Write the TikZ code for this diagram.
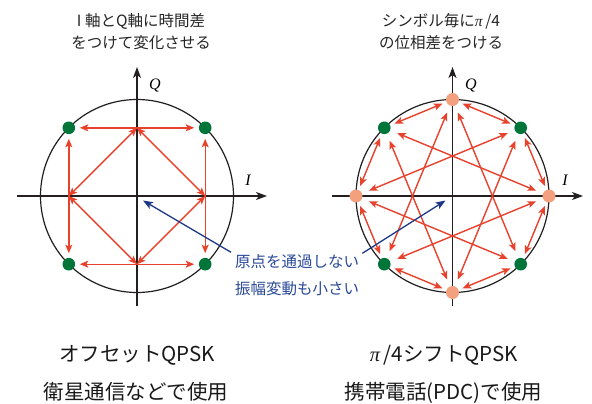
\documentclass[tikz,border=0pt]{standalone}
\usepackage{fontspec}
\setmainfont{Noto Sans CJK JP}
\newfontfamily\serifit{Liberation Serif}
\usetikzlibrary{arrows.meta,calc}
\definecolor{axisc}{HTML}{231F20}
\definecolor{redc}{HTML}{E8412C}
\definecolor{greenc}{HTML}{00753A}
\definecolor{peachc}{HTML}{F2A07E}
\definecolor{bluec}{HTML}{1E3888}
\definecolor{bluetext}{HTML}{2B4A9A}
\tikzset{
  axis/.style={draw=axisc, line width=1.2pt, -{Stealth[length=11pt,width=8pt,inset=3pt]}},
  ring/.style={draw=axisc, line width=1.2pt},
  trans/.style={draw=redc, line width=1.4pt, {Stealth[length=8.5pt,width=7pt,inset=2pt]}-{Stealth[length=8.5pt,width=7pt,inset=2pt]}},
  gdot/.style={circle, fill=greenc, minimum size=12.6pt, inner sep=0pt},
  pdot/.style={circle, fill=peachc, minimum size=13pt, inner sep=0pt},
  pointer/.style={draw=bluec, line width=1.3pt, -{Stealth[length=10pt,width=7.5pt,inset=2.5pt]}},
  toptext/.style={inner sep=0pt, anchor=base, text=black!85, font=\fontsize{15.5}{18}\selectfont},
  bluetxt/.style={inner sep=0pt, anchor=base west, text=bluetext, font=\fontsize{15.5}{18}\selectfont},
  bottext/.style={inner sep=0pt, anchor=base, text=black!90, font=\fontsize{20.5}{24}\selectfont},
  axlabel/.style={inner sep=0pt, font=\fontsize{16}{18}\serifit\itshape}
}
\begin{document}
\begin{tikzpicture}[x=1pt,y=-1pt]
\useasboundingbox (0,0) rectangle (592,404);
\fill[white] (0,0) rectangle (592,404);

% ---------------- left diagram (offset QPSK)
\coordinate (LC) at (137,196);
\coordinate (LxA) at (17,196);  \coordinate (LxB) at (267,196);
\coordinate (LyA) at (137,306); \coordinate (LyB) at (137,67);
\draw[axis] (LxA) -- (LxB);
\draw[axis] (LyA) -- (LyB);
\draw[ring] (LC) circle[radius=96.5];
\node[axlabel] (LQ) at (155,85) {Q};
\node[axlabel] (LI) at (248,180) {I};

\node[gdot] (lTR) at (205.2,127.8) {};
\node[gdot] (lTL) at (68.8,127.8) {};
\node[gdot] (lBL) at (68.8,264.2) {};
\node[gdot] (lBR) at (205.2,264.2) {};
\coordinate (lmT) at (137,127.8);
\coordinate (lmR) at (205.2,196);
\coordinate (lmB) at (137,264.2);
\coordinate (lmL) at (68.8,196);

\draw[trans, shorten <=11pt, shorten >=11pt] (lTL.center) -- (lTR.center);
\draw[trans, shorten <=11pt, shorten >=11pt] (lTR.center) -- (lBR.center);
\draw[trans, shorten <=11pt, shorten >=11pt] (lBR.center) -- (lBL.center);
\draw[trans, shorten <=11pt, shorten >=11pt] (lBL.center) -- (lTL.center);
\draw[trans] (lmT) -- (lmL);
\draw[trans] (lmL) -- (lmB);
\draw[trans] (lmB) -- (lmR);
\draw[trans] (lmR) -- (lmT);

% ---------------- right diagram (pi/4 shift QPSK)
\coordinate (RC) at (452.5,196);
\coordinate (RxA) at (332,196);  \coordinate (RxB) at (583,196);
\coordinate (RyA) at (452.5,306); \coordinate (RyB) at (452.5,67);
\draw[axis] (RxA) -- (RxB);
\draw[axis] (RyA) -- (RyB);
\draw[ring] (RC) circle[radius=96.5];
\node[axlabel] (RQ) at (471,85) {Q};
\node[axlabel] (RI) at (565,180) {I};

\node[pdot] (p0)   at (549,196) {};
\node[pdot] (p90)  at (452.5,99.5) {};
\node[pdot] (p180) at (356,196) {};
\node[pdot] (p270) at (452.5,292.5) {};
\node[gdot] (g45)  at (520.7,127.8) {};
\node[gdot] (g135) at (384.3,127.8) {};
\node[gdot] (g225) at (384.3,264.2) {};
\node[gdot] (g315) at (520.7,264.2) {};

\foreach \a/\b in {p90/g135, g135/p180, p180/g225, g225/p270, p270/g315, g315/p0, p0/g45, g45/p90}
  \draw[trans, shorten <=11pt, shorten >=11pt] (\a.center) -- (\b.center);
\foreach \a/\b in {p0/g135, p0/g225, p90/g225, p90/g315, p180/g315, p180/g45, p270/g45, p270/g135}
  \draw[trans, shorten <=14pt, shorten >=14pt] (\a.center) -- (\b.center);

% ---------------- texts
\node[toptext] (tl1) at (141,26.7) {I 軸とQ軸に時間差};
\node[toptext] (tl2) at (141,48.9) {をつけて変化させる};
\node[toptext] (tr1) at (441,26.7) {シンボル毎に{\serifit\itshape π}\,/4};
\node[toptext] (tr2) at (441,48.9) {の位相差をつける};

\node[bluetxt] (n1) at (235,267.5) {原点を通過しない};
\node[bluetxt] (n2) at (235,294.2) {振幅変動も小さい};
\coordinate (o1) at (143,200.5);
\coordinate (o2) at (445.5,200.5);
\draw[pointer] ($(n1.north west)+(-4,-2)$) -- (o1);
\draw[pointer] ($(n1.north east)+(3,-1)$) -- (o2);

\node[bottext] (bl1) at (137,361) {オフセットQPSK};
\node[bottext] (bl2) at (136,399.5) {衛星通信などで使用};
\node[bottext] (br1) at (444,361) {{\serifit\itshape π}\,/4シフトQPSK};
\node[bottext] (br2) at (443.5,399.5) {携帯電話(PDC)で使用};
\end{tikzpicture}
\end{document}
